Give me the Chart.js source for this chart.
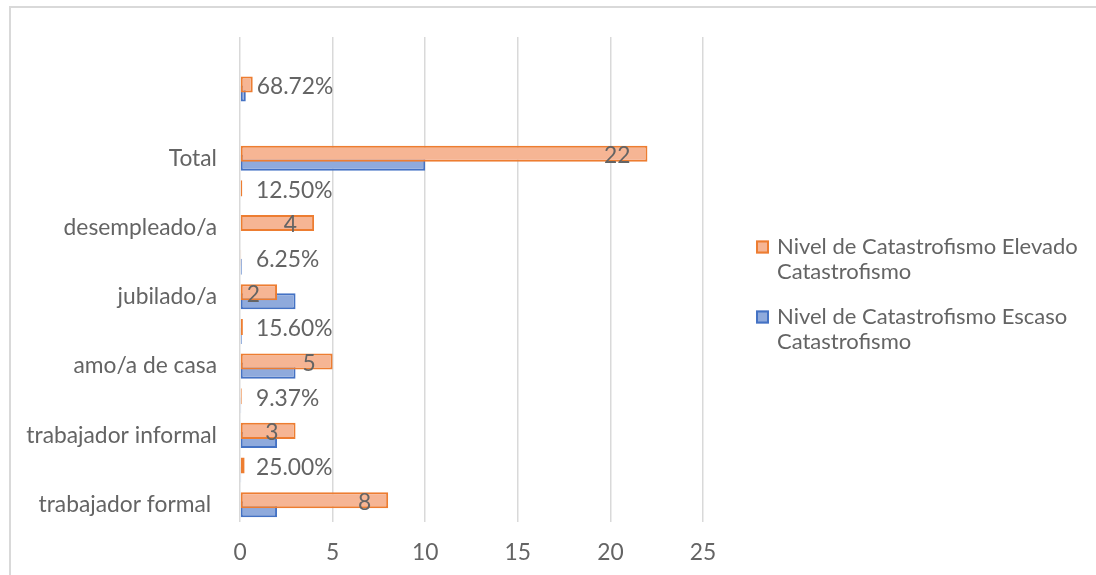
<!DOCTYPE html>
<html>
<head>
<meta charset="utf-8">
<script src="https://cdn.jsdelivr.net/npm/chart.js@4.4.0/dist/chart.umd.min.js"></script>
<style>
  html, body { margin: 0; padding: 0; background: #fff; }
  #wrap { position: relative; width: 1096px; height: 575px; overflow: hidden; }
  #frame { position: absolute; left: 9px; top: 6px; width: 1200px; height: 700px; border: 2px solid #d9d9d9; }
  #chart { position: absolute; left: 0; top: 0; }
</style>
</head>
<body>
<div id="wrap">
  <div id="frame"></div>
  <canvas id="chart" width="1096" height="575"></canvas>
</div>
<script>
// Rows listed top to bottom (Chart.js puts the first category on top)
const categories = ['', '', '', 'Total', '', 'desempleado/a', '', 'jubilado/a', '', 'amo/a de casa', '', 'trabajador informal', '', 'trabajador formal '];
const elevado = [null, 0.6872, null, 22, 0.125, 4, 0.0625, 2, 0.156, 5, 0.0937, 3, 0.25, 8];
const escaso = [null, 0.3125, null, 10, 0, 0, 0.0937, 3, 0.0937, 3, 0.0625, 2, 0.0625, 2];
const seriesNames = ['Nivel de Catastrofismo Elevado Catastrofismo', 'Nivel de Catastrofismo Escaso Catastrofismo'];
const xMin = 0;
const xMax = 25;
const xStep = 5;

const FONT = 'Lato, "Open Sans", sans-serif';
const SIZE = 22.8;
const TEXT = '#646464';

// Split a legend label into lines that fit a max width
function wrapText(ctx, text, maxWidth) {
    const words = text.split(' ');
    const lines = [];
    let line = '';
    words.forEach(w => {
        const test = line ? line + ' ' + w : w;
        if (line && ctx.measureText(test).width > maxWidth) {
            lines.push(line);
            line = w;
        } else {
            line = test;
        }
    });
    if (line) lines.push(line);
    return lines;
}

// Value labels on the orange series: numbers at the inside end, percents to the right
const barLabels = {
    id: 'barLabels',
    afterDatasetsDraw(chart) {
        const ctx = chart.ctx;
        const meta = chart.getDatasetMeta(0);
        const zero = chart.scales.x.getPixelForValue(0);
        ctx.save();
        ctx.font = SIZE + 'px ' + FONT;
        ctx.fillStyle = TEXT;
        ctx.textBaseline = 'middle';
        meta.data.forEach((bar, i) => {
            const v = elevado[i];
            if (v === null) return;
            if (v < 1) {
                ctx.textAlign = 'left';
                ctx.fillText((v * 100).toFixed(2) + '%', Math.max(bar.x, zero + 12) + 4, bar.y + 2);
            } else {
                ctx.textAlign = 'right';
                ctx.fillText(String(v), bar.x - 17, bar.y + 2);
            }
        });
        ctx.restore();
    }
};

// Legend drawn to the right of the plot, labels wrapped on two lines
const sideLegend = {
    id: 'sideLegend',
    afterDraw(chart) {
        const ctx = chart.ctx;
        const left = chart.chartArea.right + 53;
        const lineH = 24.5;
        let y = 247;
        ctx.save();
        ctx.font = '22px ' + FONT;
        ctx.textBaseline = 'middle';
        ctx.textAlign = 'left';
        chart.data.datasets.forEach(ds => {
            ctx.fillStyle = ds.backgroundColor;
            ctx.fillRect(left, y - 6.5, 13, 13);
            ctx.strokeStyle = ds.borderColor;
            ctx.lineWidth = 2;
            ctx.strokeRect(left + 1, y - 5.5, 11, 11);
            ctx.fillStyle = TEXT;
            const lines = wrapText(ctx, ds.label, 320);
            lines.forEach((ln, k) => ctx.fillText(ln, left + 21, y + k * lineH));
            y += lines.length * lineH + 21;
        });
        ctx.restore();
    }
};

new Chart(document.getElementById('chart'), {
    type: 'bar',
    data: {
        labels: categories,
        datasets: [{
            label: seriesNames[0],
            data: elevado,
            backgroundColor: '#f6b594',
            borderColor: '#ed7d31',
            borderWidth: 2,
            borderSkipped: false
        }, {
            label: seriesNames[1],
            data: escaso,
            backgroundColor: '#8faadc',
            borderColor: '#4472c4',
            borderWidth: 2,
            borderSkipped: false
        }]
    },
    options: {
        indexAxis: 'y',
        responsive: false,
        animation: false,
        categoryPercentage: 0.52,
        barPercentage: 1.78,
        layout: {
            padding: { top: 37, bottom: 0, left: 10, right: 393 }
        },
        scales: {
            x: {
                min: xMin,
                max: xMax,
                ticks: { stepSize: xStep, padding: 17, color: TEXT, font: { family: FONT, size: SIZE } },
                grid: { color: '#d9d9d9', lineWidth: 1.5, drawTicks: false },
                border: { display: false },
                afterFit(scale) { scale.height = 53; }
            },
            y: {
                ticks: { autoSkip: false, padding: 23, color: TEXT, font: { family: FONT, size: SIZE } },
                grid: { display: false, drawTicks: false },
                border: { display: false },
                afterFit(scale) { scale.width = 230; }
            }
        },
        plugins: {
            legend: { display: false },
            tooltip: { enabled: false }
        }
    },
    plugins: [barLabels, sideLegend]
});
</script>
</body>
</html>
